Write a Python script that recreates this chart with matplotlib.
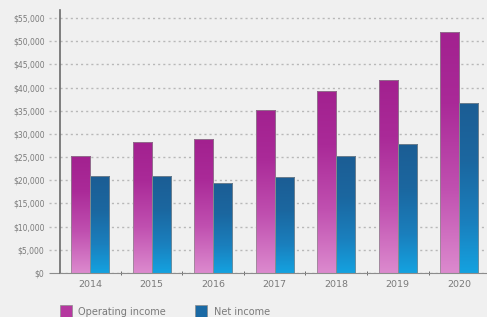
import numpy as np
import matplotlib.pyplot as plt
from matplotlib.colors import LinearSegmentedColormap
from matplotlib.patches import Patch
from matplotlib.ticker import FuncFormatter, FixedLocator

years = ["2014", "2015", "2016", "2017", "2018", "2019", "2020"]
operating_income = [25300, 28300, 28900, 35200, 39300, 41700, 52000]
net_income = [20900, 21000, 19500, 20600, 25200, 27900, 36700]

plt.rcParams["lines.scale_dashes"] = False

bg = "#f0f0f0"
text_col = "#7a7a7a"
op_cmap = LinearSegmentedColormap.from_list(
    "op", [(0, "#dc8ace"), (0.35, "#c050b0"), (0.7, "#aa2a98"), (1, "#a2218f")])
net_cmap = LinearSegmentedColormap.from_list(
    "net", [(0, "#14a2e0"), (0.3, "#1a7fbd"), (0.65, "#1b67a0"), (1, "#1c5d94")])

fig = plt.figure(figsize=(4.87, 3.17), dpi=100, facecolor=bg)
ax = fig.add_axes([0.123, 0.139, 0.877, 0.829], facecolor=bg)

x = np.arange(len(years))
w = 0.31
grad = np.linspace(0, 1, 256).reshape(-1, 1)


def gradient_bars(xs, vals, cmap):
    bars = ax.bar(xs, vals, w, facecolor="none", edgecolor="#8c8c8c", linewidth=0.5, zorder=3)
    for b in bars:
        x0, y0 = b.get_x(), b.get_y()
        im = ax.imshow(grad, cmap=cmap, aspect="auto", origin="lower",
                       extent=[x0, x0 + b.get_width(), y0, y0 + b.get_height()], zorder=2)
        im.set_clip_path(b)
    return bars


gradient_bars(x - w / 2, operating_income, op_cmap)
gradient_bars(x + w / 2, net_income, net_cmap)

ax.set_xlim(-0.49, 6.45)
ax.set_ylim(0, 56700)
yt = np.arange(0, 55001, 5000)
ax.set_yticks(yt)
ax.yaxis.set_major_formatter(FuncFormatter(lambda v, p: "${:,.0f}".format(v)))
ax.set_xticks(x)
ax.set_xticklabels(years)
ax.xaxis.set_minor_locator(FixedLocator(x[:-1] + 0.5))

grid_style = dict(color="#b8b8b8", linestyle=(0, (1.5, 2.2)), linewidth=1.0)
ax.grid(axis="y", zorder=0, **grid_style)
# dotted stubs left of the axis in place of tick marks
ax.hlines(yt[1:], -0.026, 0, transform=ax.get_yaxis_transform(), clip_on=False, **grid_style)
ax.hlines([0], -0.026, 0, transform=ax.get_yaxis_transform(), clip_on=False,
          color="#8c8c8c", linewidth=0.8)

for s in ["top", "right"]:
    ax.spines[s].set_visible(False)
ax.spines["left"].set_color("#6a6a6a")
ax.spines["bottom"].set_color("#8c8c8c")
ax.spines["left"].set_linewidth(1.2)
ax.tick_params(axis="y", length=0, labelsize=5.5, labelcolor=text_col, pad=11)
ax.tick_params(axis="x", which="major", length=0, labelsize=6.8, labelcolor=text_col, pad=5)
ax.tick_params(axis="x", which="minor", length=3, color="#555555", direction="inout")

handles = [Patch(facecolor="#b5389f", edgecolor="#8c8c8c", linewidth=0.5, label="Operating income"),
           Patch(facecolor="#1a69a4", edgecolor="#8c8c8c", linewidth=0.5, label="Net income")]
fig.legend(handles=handles, loc="lower left", bbox_to_anchor=(0.105, -0.03), ncol=2,
           frameon=False, fontsize=7, labelcolor=text_col, handlelength=1.2,
           handleheight=1.6, columnspacing=3.0, handletextpad=0.7)

fig.savefig("out.png", dpi=100, facecolor=bg)
